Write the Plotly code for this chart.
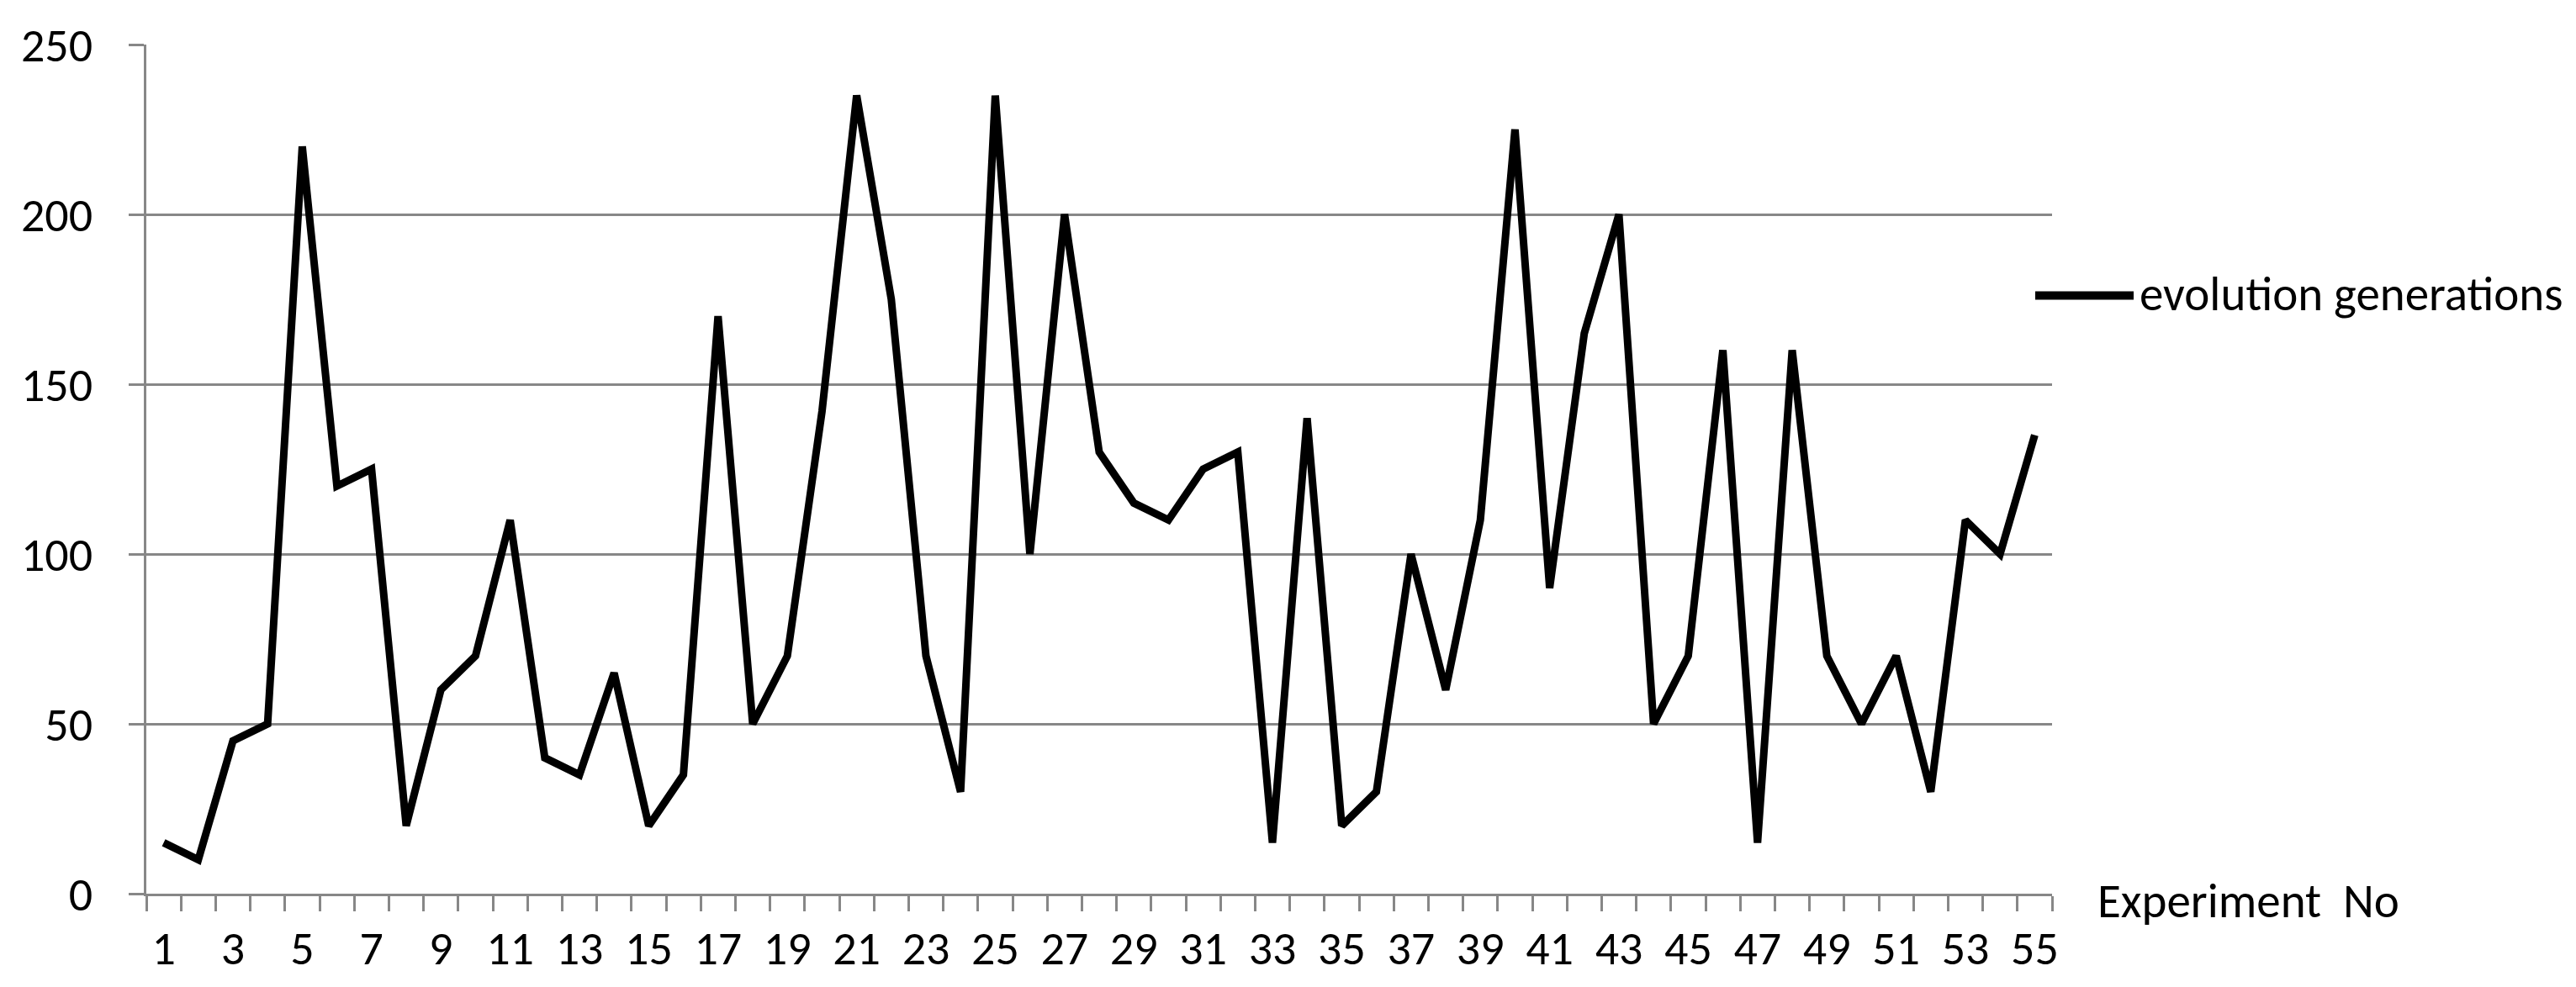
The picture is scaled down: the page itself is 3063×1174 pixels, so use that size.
import plotly.graph_objects as go

experiments = list(range(1, 56))
evolution_generations = [
    15, 10, 45, 50, 220, 120, 125, 20, 60, 70,
    110, 40, 35, 65, 20, 35, 170, 50, 70, 142,
    235, 175, 70, 30, 235, 100, 200, 130, 115, 110,
    125, 130, 15, 140, 20, 30, 100, 60, 110, 225,
    90, 165, 200, 50, 70, 160, 15, 160, 70, 50,
    70, 30, 110, 100, 135,
]
x_tick_labels = [str(v) for v in experiments[::2]]
y_tick_values = [0, 50, 100, 150, 200, 250]
series_name = "evolution generations"
x_title = "Experiment\u00a0\u00a0No"

FONT = "Carlito, Lato, sans-serif"
GRID = "#878787"

fig = go.Figure()
fig.add_trace(go.Scatter(
    x=experiments, y=evolution_generations, mode="lines", name=series_name,
    line=dict(color="#000000", width=9), showlegend=False,
))

fig.update_layout(
    width=3063, height=1174,
    margin=dict(l=166, r=631, t=43, b=119),
    paper_bgcolor="white", plot_bgcolor="white",
    font=dict(family=FONT, size=56, color="#000000"),
    showlegend=False,
)
fig.update_xaxes(
    range=[0.5, len(experiments) + 0.5],
    tickmode="array", tickvals=experiments[::2], ticktext=x_tick_labels,
    ticks="", showgrid=False, zeroline=False,
    showline=True, linecolor=GRID, linewidth=3,
    tickfont=dict(family=FONT, size=56, color="#000000"),
    ticklabelstandoff=14,
    minor=dict(ticks="outside", tickmode="array",
               tickvals=[i + 0.5 for i in range(len(experiments) + 1)],
               ticklen=18, tickwidth=2.5, tickcolor=GRID, showgrid=False),
)
fig.update_yaxes(
    range=[0, 250], tickmode="array", tickvals=y_tick_values,
    ticks="outside", ticklen=18, tickwidth=2.5, tickcolor=GRID,
    showgrid=True, gridcolor=GRID, gridwidth=2.5, zeroline=False,
    showline=True, linecolor=GRID, linewidth=2.5,
    tickfont=dict(family=FONT, size=56, color="#000000"),
    ticklabelstandoff=32,
)

# legend drawn as a sample line plus label at the right
fig.add_shape(type="line", xref="paper", yref="paper",
              x0=(2412 - 166) / 2266, x1=(2529 - 166) / 2266,
              y0=(1055 - 342) / 1012, y1=(1055 - 342) / 1012,
              line=dict(color="#000000", width=10))
fig.add_annotation(text=series_name, xref="paper", yref="paper",
                   x=(2534 - 166) / 2266, y=(1055 - 340) / 1012,
                   xanchor="left", yanchor="middle", showarrow=False,
                   font=dict(family=FONT, size=57, color="#000000"))
fig.add_annotation(text=x_title, xref="paper", yref="paper",
                   x=(2484 - 166) / 2266, y=(1055 - 1064) / 1012,
                   xanchor="left", yanchor="middle", showarrow=False,
                   font=dict(family=FONT, size=57, color="#000000"))

fig.write_html("out.html")
